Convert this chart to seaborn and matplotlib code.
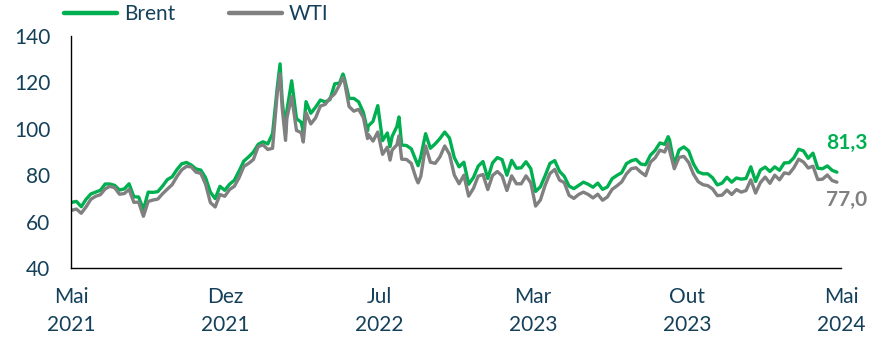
import matplotlib
matplotlib.use("Agg")
import matplotlib.pyplot as plt
import matplotlib.dates as mdates
from matplotlib.lines import Line2D
import numpy as np
import pandas as pd
import seaborn as sns

# Weekly (Friday) closing prices, USD per barrel
brent_2021 = [68.3, 68.7, 66.4, 69.6,
              71.9, 72.7, 73.5, 76.2,
              76.2, 75.6, 73.6, 74.1, 76.3,
              70.7, 70.6, 65.2, 72.7,
              72.6, 72.9, 75.3, 78.1,
              79.3, 82.4, 84.9, 85.5, 84.4,
              82.7, 82.2, 78.9, 72.7,
              69.9, 75.2, 73.5, 76.1, 77.8]
wti_2021 = [64.9, 65.4, 63.6, 66.3,
            69.6, 70.9, 71.6, 74.1,
            75.2, 74.6, 71.8, 72.1, 73.9,
            68.3, 68.4, 62.3, 68.7,
            69.3, 69.7, 72.0, 74.0,
            75.9, 79.4, 82.3, 83.8, 83.6,
            81.3, 80.8, 76.1, 68.2,
            66.3, 71.7, 70.9, 73.8, 75.2]

brent_2022 = [81.8, 86.1, 87.9, 90.0,
              93.3, 94.4, 93.5, 97.9,
              118.1, 112.7, 107.9, 120.7,
              104.4, 102.8, 111.7, 106.7, 109.3,
              112.4, 111.6, 112.6, 119.4,
              119.7, 122.0, 113.1, 113.1,
              111.6, 107.0, 101.2, 103.2, 110.0,
              94.9, 98.2, 96.7, 101.0,
              93.0, 92.8, 91.4, 86.2, 88.0,
              97.9, 91.6, 93.5, 95.8,
              98.6, 96.0, 87.6, 83.6,
              85.6, 76.1, 79.0, 83.9, 85.9]
wti_2022 = [78.9, 83.8, 85.1, 86.8,
            92.3, 93.1, 91.1, 91.6,
            115.7, 109.3, 104.7, 113.9,
            99.3, 98.3, 107.0, 102.1, 104.7,
            109.8, 110.5, 113.2, 115.1,
            118.9, 120.7, 109.6, 107.6,
            108.4, 104.8, 97.6, 94.7, 98.6,
            89.0, 92.1, 90.8, 93.1,
            86.9, 86.8, 85.1, 78.7, 79.5,
            92.6, 85.6, 85.1, 87.9,
            92.6, 89.0, 80.1, 76.3,
            80.0, 71.0, 74.3, 79.6, 80.3]

brent_2023 = [78.6, 85.3, 87.6, 86.7,
              80.0, 86.4, 83.0, 83.2,
              85.8, 82.8, 73.0, 75.0, 79.8,
              85.1, 86.3, 81.7, 79.5,
              75.3, 74.2, 75.6, 77.0,
              76.1, 74.8, 76.6, 73.9, 74.9,
              78.5, 79.9, 81.1, 85.0,
              86.2, 86.8, 84.8, 84.5,
              88.6, 90.7, 93.9, 93.3, 95.3,
              84.6, 90.9, 92.2, 90.5,
              84.9, 81.4, 80.6, 80.6,
              78.9, 75.8, 76.6, 79.1, 77.0]
wti_2023 = [73.8, 79.9, 81.6, 79.7,
            73.4, 79.7, 76.3, 76.3,
            79.7, 76.7, 66.7, 69.3, 75.7,
            80.7, 82.5, 77.9, 76.8,
            71.3, 70.0, 71.7, 72.7,
            71.7, 70.2, 71.8, 69.2, 70.6,
            73.9, 75.4, 77.1, 80.6,
            82.8, 83.2, 81.3, 79.8,
            85.6, 87.5, 90.8, 90.0, 90.8,
            82.8, 87.7, 88.1, 85.5,
            80.5, 77.2, 75.9, 75.5,
            74.1, 71.2, 71.4, 73.6, 71.7]

brent_2024 = [78.8, 78.3, 78.6, 83.6,
              77.3, 82.2, 83.5, 81.6,
              83.6, 82.1, 85.3, 85.4, 87.5,
              91.2, 90.5, 87.3, 89.5,
              83.0, 82.8, 84.0, 82.1, 81.3]
wti_2024 = [73.8, 72.7, 73.4, 78.0,
            72.3, 76.8, 79.2, 76.5,
            80.0, 78.0, 81.0, 80.6, 83.2,
            86.9, 85.7, 83.1, 83.9,
            78.1, 78.3, 80.1, 77.7, 77.0]

# Intra-week extremes worth keeping on the chart
extra_dates = ["2021-05-06", "2022-03-08", "2022-03-16", "2022-04-11",
               "2022-06-08", "2022-07-14", "2022-08-16", "2022-08-29",
               "2022-09-26", "2023-09-27"]
extra_brent = [68.1, 128.0, 98.0, 98.5, 123.6, 99.1, 92.3, 105.1, 84.1, 96.6]
extra_wti = [64.7, 123.7, 95.0, 94.3, 122.1, 95.8, 86.5, 97.0, 76.7, 93.7]

series_names = ["Brent", "WTI"]
series_colors = ["#00B050", "#808080"]
x_tick_labels = ["Mai\n2021", "Dez\n2021", "Jul\n2022", "Mar\n2023", "Out\n2023", "Mai\n2024"]
y_ticks = [40, 60, 80, 100, 120, 140]
x_range = ["2021-05-06", "2024-06-06"]

weekly_dates = pd.date_range("2021-05-07", "2024-05-31", freq="W-FRI")
brent = brent_2021 + brent_2022 + brent_2023 + brent_2024
wti = wti_2021 + wti_2022 + wti_2023 + wti_2024
assert len(weekly_dates) == len(brent) == len(wti)

dates = list(weekly_dates) + list(pd.to_datetime(extra_dates))
wide = pd.DataFrame({"date": dates,
                     "Brent": brent + extra_brent,
                     "WTI": wti + extra_wti}).sort_values("date")
df = wide.melt(id_vars="date", var_name="series", value_name="price")

text_color = "#14405A"

sns.set_theme(style="white")
plt.rcParams["font.family"] = ["Lato", "DejaVu Sans"]

fig = plt.figure(figsize=(8.73, 3.39), dpi=100)
ax = fig.add_axes([71 / 873, 1 - 268 / 339, 770 / 873, 232 / 339])

sns.lineplot(data=df, x="date", y="price", hue="series", hue_order=series_names,
             palette=dict(zip(series_names, series_colors)), linewidth=2.4,
             legend=False, ax=ax)

x0, x1 = mdates.date2num(pd.to_datetime(x_range))
ax.set_xlim(x0, x1)
ax.set_xticks(np.linspace(x0, x1, len(x_tick_labels)))
ax.set_xticklabels(x_tick_labels, linespacing=1.5)
ax.set_ylim(y_ticks[0], y_ticks[-1])
ax.set_yticks(y_ticks)
ax.set_xlabel("")
ax.set_ylabel("")

for side in ("top", "right"):
    ax.spines[side].set_visible(False)
for side in ("left", "bottom"):
    ax.spines[side].set_color("black")
    ax.spines[side].set_linewidth(1.0)

ax.tick_params(axis="both", which="major", direction="out", length=6, width=1,
               color="black", labelsize=15, labelcolor=text_color)
ax.tick_params(axis="x", pad=8)
ax.tick_params(axis="y", pad=9)

# Latest values at the line ends
last = wide.iloc[-1]
ax.annotate(f"{last['Brent']:.1f}".replace(".", ","), xy=(mdates.date2num(last["date"]), last["Brent"]),
            xytext=(-8, 21), textcoords="offset points", ha="left", va="center",
            fontsize=15, fontweight="bold", color=series_colors[0], annotation_clip=False)
ax.annotate(f"{last['WTI']:.1f}".replace(".", ","), xy=(mdates.date2num(last["date"]), last["WTI"]),
            xytext=(-8, -13), textcoords="offset points", ha="left", va="center",
            fontsize=15, fontweight="bold", color=series_colors[1], annotation_clip=False)

handles = [Line2D([], [], color=c, linewidth=3.2) for c in series_colors]
fig.legend(handles, series_names, loc="upper left", bbox_to_anchor=(56 / 873, 1 + 4 / 339),
           ncol=2, frameon=False, fontsize=15, labelcolor=text_color,
           handlelength=2.55, handletextpad=0.3, columnspacing=2.6, borderaxespad=0)

fig.savefig("out.png", dpi=100)
